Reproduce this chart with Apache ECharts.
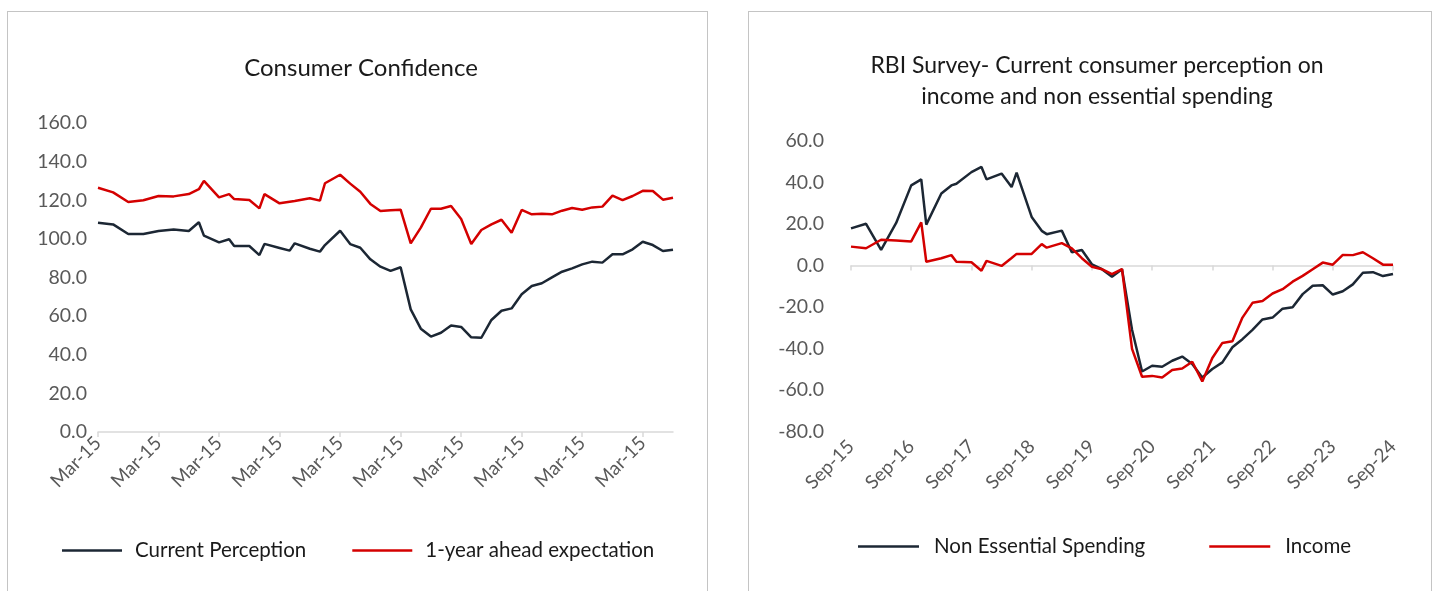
<!DOCTYPE html>
<html>
<head>
<meta charset="utf-8">
<title>Consumer Confidence</title>
<script src="https://cdn.jsdelivr.net/npm/echarts@6/dist/echarts.min.js"></script>
<style>
  html, body { margin: 0; padding: 0; background: #fff; }
  .panel { position: absolute; top: 11px; height: 600px; border: 1px solid #c4c4c4; box-sizing: border-box; }
  #left { left: 7px; width: 701px; }
  #right { left: 748px; width: 684px; }
  .chart { width: 100%; height: 100%; }
</style>
</head>
<body>
<div id="left" class="panel"><div id="leftChart" class="chart"></div></div>
<div id="right" class="panel"><div id="rightChart" class="chart"></div></div>
<script>
// survey rounds and readings, left panel
const leftRounds = ['Mar-15', 'Jun-15', 'Sep-15', 'Dec-15', 'Mar-16', 'Jun-16', 'Sep-16', 'Nov-16', 'Dec-16', 'Mar-17',
  'May-17', 'Jun-17', 'Sep-17', 'Nov-17', 'Dec-17', 'Mar-18', 'May-18', 'Jun-18', 'Sep-18', 'Nov-18',
  'Dec-18', 'Mar-19', 'May-19', 'Jul-19', 'Sep-19', 'Nov-19', 'Jan-20', 'Mar-20', 'May-20', 'Jul-20',
  'Sep-20', 'Nov-20', 'Jan-21', 'Mar-21', 'May-21', 'Jul-21', 'Sep-21', 'Nov-21', 'Jan-22', 'Mar-22',
  'May-22', 'Jul-22', 'Sep-22', 'Nov-22', 'Jan-23', 'Mar-23', 'May-23', 'Jul-23', 'Sep-23', 'Nov-23',
  'Jan-24', 'Mar-24', 'May-24', 'Jul-24', 'Sep-24']
const currentPerception = [108.4, 107.5, 102.5, 102.5, 104.1, 104.8, 104.1, 108.6, 101.7, 98.2,
  99.8, 96.3, 96.3, 91.6, 97.4, 95.3, 93.9, 97.7, 94.9, 93.4,
  96.8, 104.2, 97.3, 95.4, 89.4, 85.6, 83.4, 85.3, 63.5, 53.5,
  49.4, 51.4, 55.1, 54.4, 49.0, 48.8, 58.0, 62.8, 64.0, 71.3,
  75.6, 77.0, 80.1, 83.0, 84.7, 86.8, 88.2, 87.7, 92.0, 92.0,
  94.6, 98.5, 96.8, 93.7, 94.4]
const yearAheadExpectation = [126.5, 124.1, 119.1, 120.0, 122.2, 122.0, 123.2, 125.7, 130.0, 121.5,
  123.2, 120.6, 120.1, 115.8, 123.2, 118.4, 119.2, 119.6, 121.0, 119.8,
  128.8, 133.2, 128.6, 124.4, 118.1, 114.4, 114.8, 115.1, 97.7, 105.8,
  115.6, 115.6, 117.0, 110.3, 97.3, 104.6, 107.5, 109.9, 103.2, 115.0,
  112.7, 113.0, 112.7, 114.6, 116.0, 115.1, 116.3, 116.7, 122.4, 120.1,
  122.2, 124.9, 124.8, 120.3, 121.3]
// the source sheet shows the same label on every tick
const leftTickLabels = ['Mar-15', 'Mar-15', 'Mar-15', 'Mar-15', 'Mar-15', 'Mar-15', 'Mar-15', 'Mar-15', 'Mar-15', 'Mar-15']

// survey rounds and readings, right panel
const rightRounds = ['Sep-15', 'Dec-15', 'Mar-16', 'Jun-16', 'Sep-16', 'Nov-16', 'Dec-16', 'Mar-17', 'May-17', 'Jun-17',
  'Sep-17', 'Nov-17', 'Dec-17', 'Mar-18', 'May-18', 'Jun-18', 'Sep-18', 'Nov-18', 'Dec-18', 'Mar-19',
  'May-19', 'Jul-19', 'Sep-19', 'Nov-19', 'Jan-20', 'Mar-20', 'May-20', 'Jul-20', 'Sep-20', 'Nov-20',
  'Jan-21', 'Mar-21', 'May-21', 'Jul-21', 'Sep-21', 'Nov-21', 'Jan-22', 'Mar-22', 'May-22', 'Jul-22',
  'Sep-22', 'Nov-22', 'Jan-23', 'Mar-23', 'May-23', 'Jul-23', 'Sep-23', 'Nov-23', 'Jan-24', 'Mar-24',
  'May-24', 'Jul-24', 'Sep-24']
const nonEssentialSpending = [17.9, 20.1, 7.5, 20.5, 38.6, 41.5, 19.7, 34.7, 38.6, 39.4,
  45.0, 47.5, 41.5, 44.3, 37.8, 44.8, 23.4, 16.7, 15.1, 16.8,
  6.4, 7.5, 0.6, -1.8, -5.4, -1.8, -31.0, -51.1, -48.3, -48.8,
  -45.9, -43.9, -47.5, -54.0, -49.9, -46.7, -39.4, -35.5, -31.0, -26.0,
  -25.1, -20.8, -20.1, -13.8, -9.8, -9.5, -14.0, -12.4, -9.1, -3.5,
  -3.2, -5.1, -4.1]
const income = [9.1, 8.3, 12.4, 12.1, 11.6, 20.8, 1.8, 3.5, 5.0, 1.8,
  1.6, -2.5, 2.2, -0.2, 3.6, 5.6, 5.6, 10.3, 8.6, 10.8,
  8.3, 3.5, -0.6, -1.8, -4.1, -1.7, -40.2, -53.6, -53.2, -54.0,
  -50.4, -49.6, -46.4, -55.9, -44.6, -37.3, -36.5, -25.1, -18.0, -17.1,
  -13.5, -11.4, -7.8, -5.0, -1.8, 1.4, 0.4, 5.1, 5.0, 6.4,
  3.5, 0.4, 0.4]
const rightTickLabels = ['Sep-15', 'Sep-16', 'Sep-17', 'Sep-18', 'Sep-19', 'Sep-20', 'Sep-21', 'Sep-22', 'Sep-23', 'Sep-24']

const FONT = 'Lato, "Open Sans", sans-serif'
const DARK = '#1c2734'
const RED = '#d40000'
const GREY_TEXT = '#595959'
const AXIS_GREY = '#d9d9d9'

// monthly category axis so the survey dates keep their real spacing
const MONTHS = ['Jan', 'Feb', 'Mar', 'Apr', 'May', 'Jun', 'Jul', 'Aug', 'Sep', 'Oct', 'Nov', 'Dec']
const monthNo = s => MONTHS.indexOf(s.slice(0, 3)) + 12 * Number(s.slice(4))
const monthAxis = (first, last) => {
  const out = []
  for (let m = monthNo(first); m <= monthNo(last); m++) {
    out.push(MONTHS[m % 12] + '-' + String(Math.floor(m / 12)).padStart(2, '0'))
  }
  return out
}
const onMonths = (axis, rounds, values) => {
  const row = axis.map(() => null)
  rounds.forEach((r, i) => { row[axis.indexOf(r)] = values[i] })
  return row
}

const lineSeries = (name, data, color, xAxisIndex) => ({
  name,
  type: 'line',
  data,
  xAxisIndex: xAxisIndex || 0,
  connectNulls: true,
  symbol: 'none',
  lineStyle: { color, width: 2.5 },
  itemStyle: { color }
})

const valueLabel = v => v.toFixed(1)

// left: Consumer Confidence
const leftMonths = monthAxis(leftRounds[0], leftRounds[leftRounds.length - 1])
const leftChart = echarts.init(document.getElementById('leftChart'))
leftChart.setOption({
  animation: false,
  textStyle: { fontFamily: FONT },
  title: {
    text: 'Consumer Confidence',
    left: 348,
    top: 39,
    textAlign: 'center',
    textStyle: { fontFamily: FONT, fontSize: 24, fontWeight: 'normal', color: '#1a1a1a' }
  },
  grid: { left: 90, top: 111, width: 575, height: 309 },
  legend: {
    left: 49,
    top: 523,
    icon: 'rect',
    itemWidth: 60,
    itemHeight: 2.5,
    itemGap: 46,
    textStyle: { fontFamily: FONT, fontSize: 20.5, color: '#1a1a1a', padding: [0, 0, 0, 8] },
    data: ['Current Perception', '1-year ahead expectation']
  },
  xAxis: {
    type: 'category',
    data: leftMonths,
    boundaryGap: false,
    axisLine: { lineStyle: { color: AXIS_GREY, width: 1.5 } },
    axisTick: { interval: 11, length: 5, lineStyle: { color: AXIS_GREY, width: 1.5 } },
    axisLabel: {
      interval: 11,
      rotate: 45,
      margin: 8,
      fontSize: 19,
      color: GREY_TEXT,
      fontFamily: FONT,
      formatter: (v, i) => leftTickLabels[i / 12]
    }
  },
  yAxis: {
    type: 'value',
    min: 0,
    max: 160,
    interval: 20,
    axisLine: { show: false },
    axisTick: { show: false },
    splitLine: { show: false },
    axisLabel: { margin: 11, fontSize: 19.5, color: GREY_TEXT, fontFamily: FONT, formatter: valueLabel }
  },
  series: [
    lineSeries('Current Perception', onMonths(leftMonths, leftRounds, currentPerception), DARK),
    lineSeries('1-year ahead expectation', onMonths(leftMonths, leftRounds, yearAheadExpectation), RED)
  ]
})

// right: RBI survey, income and non essential spending
const rightMonths = monthAxis(rightRounds[0], rightRounds[rightRounds.length - 1])
const rightChart = echarts.init(document.getElementById('rightChart'))
rightChart.setOption({
  animation: false,
  textStyle: { fontFamily: FONT },
  title: {
    text: 'RBI Survey- Current consumer perception on\nincome and non essential spending',
    left: 343,
    top: 33,
    textAlign: 'center',
    textStyle: { fontFamily: FONT, fontSize: 23, fontWeight: 'normal', color: '#1a1a1a', lineHeight: 31 }
  },
  grid: { left: 102, top: 129, width: 542, height: 290.5 },
  legend: {
    left: 104,
    top: 519,
    icon: 'rect',
    itemWidth: 61,
    itemHeight: 2.5,
    itemGap: 64,
    textStyle: { fontFamily: FONT, fontSize: 20.5, color: '#1a1a1a', padding: [0, 0, 0, 10] },
    data: ['Non Essential Spending', 'Income']
  },
  xAxis: [
    {
      // labels sit at the bottom of the plot
      type: 'category',
      data: rightMonths,
      boundaryGap: false,
      position: 'bottom',
      axisLine: { show: false, onZero: false },
      axisTick: { show: false },
      axisLabel: {
        interval: 11,
        rotate: 45,
        margin: 12,
        fontSize: 19,
        color: GREY_TEXT,
        fontFamily: FONT,
        formatter: (v, i) => rightTickLabels[i / 12]
      }
    },
    {
      // line and ticks sit on zero
      type: 'category',
      data: rightMonths,
      boundaryGap: false,
      position: 'bottom',
      axisLine: { onZero: true, lineStyle: { color: AXIS_GREY, width: 1.5 } },
      axisTick: { interval: 11, length: 5, lineStyle: { color: AXIS_GREY, width: 1.5 } },
      axisLabel: { show: false }
    }
  ],
  yAxis: {
    type: 'value',
    min: -80,
    max: 60,
    interval: 20,
    axisLine: { show: false },
    axisTick: { show: false },
    splitLine: { show: false },
    axisLabel: { margin: 27, fontSize: 19.5, color: GREY_TEXT, fontFamily: FONT, formatter: valueLabel }
  },
  series: [
    lineSeries('Non Essential Spending', onMonths(rightMonths, rightRounds, nonEssentialSpending), DARK),
    lineSeries('Income', onMonths(rightMonths, rightRounds, income), RED)
  ]
})
</script>
</body>
</html>
